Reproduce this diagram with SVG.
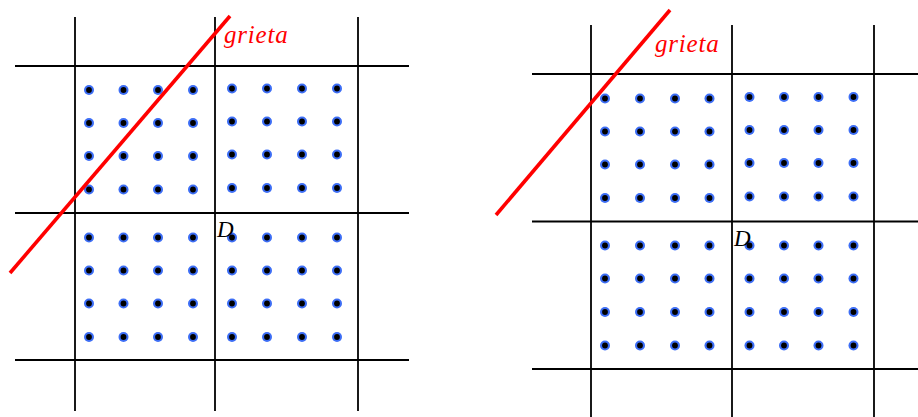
<svg xmlns="http://www.w3.org/2000/svg" xmlns:xlink="http://www.w3.org/1999/xlink" width="918" height="417" viewBox="0 0 918 417">
<style>
.g{stroke:#000;stroke-width:1.8;fill:none}
.c{stroke:#ff0000;stroke-width:3.6;fill:none}
.lab{font-family:"Liberation Serif",serif;font-style:italic;font-size:25px;fill:#ff0000;letter-spacing:0.8px}
.d{font-family:"Liberation Serif",serif;font-style:italic;font-size:23px;fill:#000}
</style>
<defs>
<g id="dot"><circle r="5" fill="#3d6ef5"/><circle r="2.9" fill="#000"/></g>
</defs>
<rect width="918" height="417" fill="#fff"/>
<g id="left">
<g id="left-grid" class="g">
<line x1="75" y1="17" x2="75" y2="411"/>
<line x1="215" y1="17" x2="215" y2="411"/>
<line x1="358" y1="17" x2="358" y2="411"/>
<line x1="15" y1="66" x2="409" y2="66"/>
<line x1="15" y1="213" x2="409" y2="213"/>
<line x1="15" y1="360" x2="409" y2="360"/>
</g>
<g id="left-dots">
<g transform="translate(89,90)"><use href="#dot"/><use href="#dot" x="34.5"/><use href="#dot" x="69"/><use href="#dot" x="104"/>
<use href="#dot" y="33"/><use href="#dot" x="34.5" y="33"/><use href="#dot" x="69" y="33"/><use href="#dot" x="104" y="33"/>
<use href="#dot" y="66"/><use href="#dot" x="34.5" y="66"/><use href="#dot" x="69" y="66"/><use href="#dot" x="104" y="66"/>
<use href="#dot" y="99.5"/><use href="#dot" x="34.5" y="99.5"/><use href="#dot" x="69" y="99.5"/><use href="#dot" x="104" y="99.5"/></g>
<g transform="translate(232,88.5)"><use href="#dot"/><use href="#dot" x="35"/><use href="#dot" x="70"/><use href="#dot" x="105"/>
<use href="#dot" y="33"/><use href="#dot" x="35" y="33"/><use href="#dot" x="70" y="33"/><use href="#dot" x="105" y="33"/>
<use href="#dot" y="66"/><use href="#dot" x="35" y="66"/><use href="#dot" x="70" y="66"/><use href="#dot" x="105" y="66"/>
<use href="#dot" y="99.5"/><use href="#dot" x="35" y="99.5"/><use href="#dot" x="70" y="99.5"/><use href="#dot" x="105" y="99.5"/></g>
<g transform="translate(89,237.5)"><use href="#dot"/><use href="#dot" x="34.5"/><use href="#dot" x="69"/><use href="#dot" x="104"/>
<use href="#dot" y="33"/><use href="#dot" x="34.5" y="33"/><use href="#dot" x="69" y="33"/><use href="#dot" x="104" y="33"/>
<use href="#dot" y="66"/><use href="#dot" x="34.5" y="66"/><use href="#dot" x="69" y="66"/><use href="#dot" x="104" y="66"/>
<use href="#dot" y="99.5"/><use href="#dot" x="34.5" y="99.5"/><use href="#dot" x="69" y="99.5"/><use href="#dot" x="104" y="99.5"/></g>
<g transform="translate(232,237.5)"><use href="#dot"/><use href="#dot" x="35"/><use href="#dot" x="70"/><use href="#dot" x="105"/>
<use href="#dot" y="33"/><use href="#dot" x="35" y="33"/><use href="#dot" x="70" y="33"/><use href="#dot" x="105" y="33"/>
<use href="#dot" y="66"/><use href="#dot" x="35" y="66"/><use href="#dot" x="70" y="66"/><use href="#dot" x="105" y="66"/>
<use href="#dot" y="99.5"/><use href="#dot" x="35" y="99.5"/><use href="#dot" x="70" y="99.5"/><use href="#dot" x="105" y="99.5"/></g>
</g>
<line id="left-crack" class="c" x1="10" y1="273" x2="230" y2="16"/>
<text class="lab" x="224" y="43">grieta</text>
<text class="d" x="217" y="237">D</text>
</g>
<g id="right">
<g id="right-grid" class="g">
<line x1="591" y1="25" x2="591" y2="417"/>
<line x1="732" y1="25" x2="732" y2="417"/>
<line x1="874" y1="25" x2="874" y2="417"/>
<line x1="532" y1="74" x2="918" y2="74"/>
<line x1="532" y1="221.5" x2="918" y2="221.5"/>
<line x1="532" y1="369" x2="918" y2="369"/>
</g>
<g id="right-dots">
<g transform="translate(605,98.5)"><use href="#dot"/><use href="#dot" x="35"/><use href="#dot" x="70"/><use href="#dot" x="104.5"/>
<use href="#dot" y="33"/><use href="#dot" x="35" y="33"/><use href="#dot" x="70" y="33"/><use href="#dot" x="104.5" y="33"/>
<use href="#dot" y="66"/><use href="#dot" x="35" y="66"/><use href="#dot" x="70" y="66"/><use href="#dot" x="104.5" y="66"/>
<use href="#dot" y="99.5"/><use href="#dot" x="35" y="99.5"/><use href="#dot" x="70" y="99.5"/><use href="#dot" x="104.5" y="99.5"/></g>
<g transform="translate(749.5,97)"><use href="#dot"/><use href="#dot" x="34.5"/><use href="#dot" x="69"/><use href="#dot" x="104"/>
<use href="#dot" y="33"/><use href="#dot" x="34.5" y="33"/><use href="#dot" x="69" y="33"/><use href="#dot" x="104" y="33"/>
<use href="#dot" y="66"/><use href="#dot" x="34.5" y="66"/><use href="#dot" x="69" y="66"/><use href="#dot" x="104" y="66"/>
<use href="#dot" y="99.5"/><use href="#dot" x="34.5" y="99.5"/><use href="#dot" x="69" y="99.5"/><use href="#dot" x="104" y="99.5"/></g>
<g transform="translate(605,245.5)"><use href="#dot"/><use href="#dot" x="35"/><use href="#dot" x="70"/><use href="#dot" x="104.5"/>
<use href="#dot" y="33"/><use href="#dot" x="35" y="33"/><use href="#dot" x="70" y="33"/><use href="#dot" x="104.5" y="33"/>
<use href="#dot" y="66.5"/><use href="#dot" x="35" y="66.5"/><use href="#dot" x="70" y="66.5"/><use href="#dot" x="104.5" y="66.5"/>
<use href="#dot" y="100"/><use href="#dot" x="35" y="100"/><use href="#dot" x="70" y="100"/><use href="#dot" x="104.5" y="100"/></g>
<g transform="translate(749.5,245.5)"><use href="#dot"/><use href="#dot" x="34.5"/><use href="#dot" x="69"/><use href="#dot" x="104"/>
<use href="#dot" y="33"/><use href="#dot" x="34.5" y="33"/><use href="#dot" x="69" y="33"/><use href="#dot" x="104" y="33"/>
<use href="#dot" y="66.5"/><use href="#dot" x="34.5" y="66.5"/><use href="#dot" x="69" y="66.5"/><use href="#dot" x="104" y="66.5"/>
<use href="#dot" y="100"/><use href="#dot" x="34.5" y="100"/><use href="#dot" x="69" y="100"/><use href="#dot" x="104" y="100"/></g>
</g>
<line id="right-crack" class="c" x1="496" y1="215" x2="670" y2="10"/>
<text class="lab" x="655" y="52">grieta</text>
<text class="d" x="734" y="246">D</text>
</g>
</svg>
